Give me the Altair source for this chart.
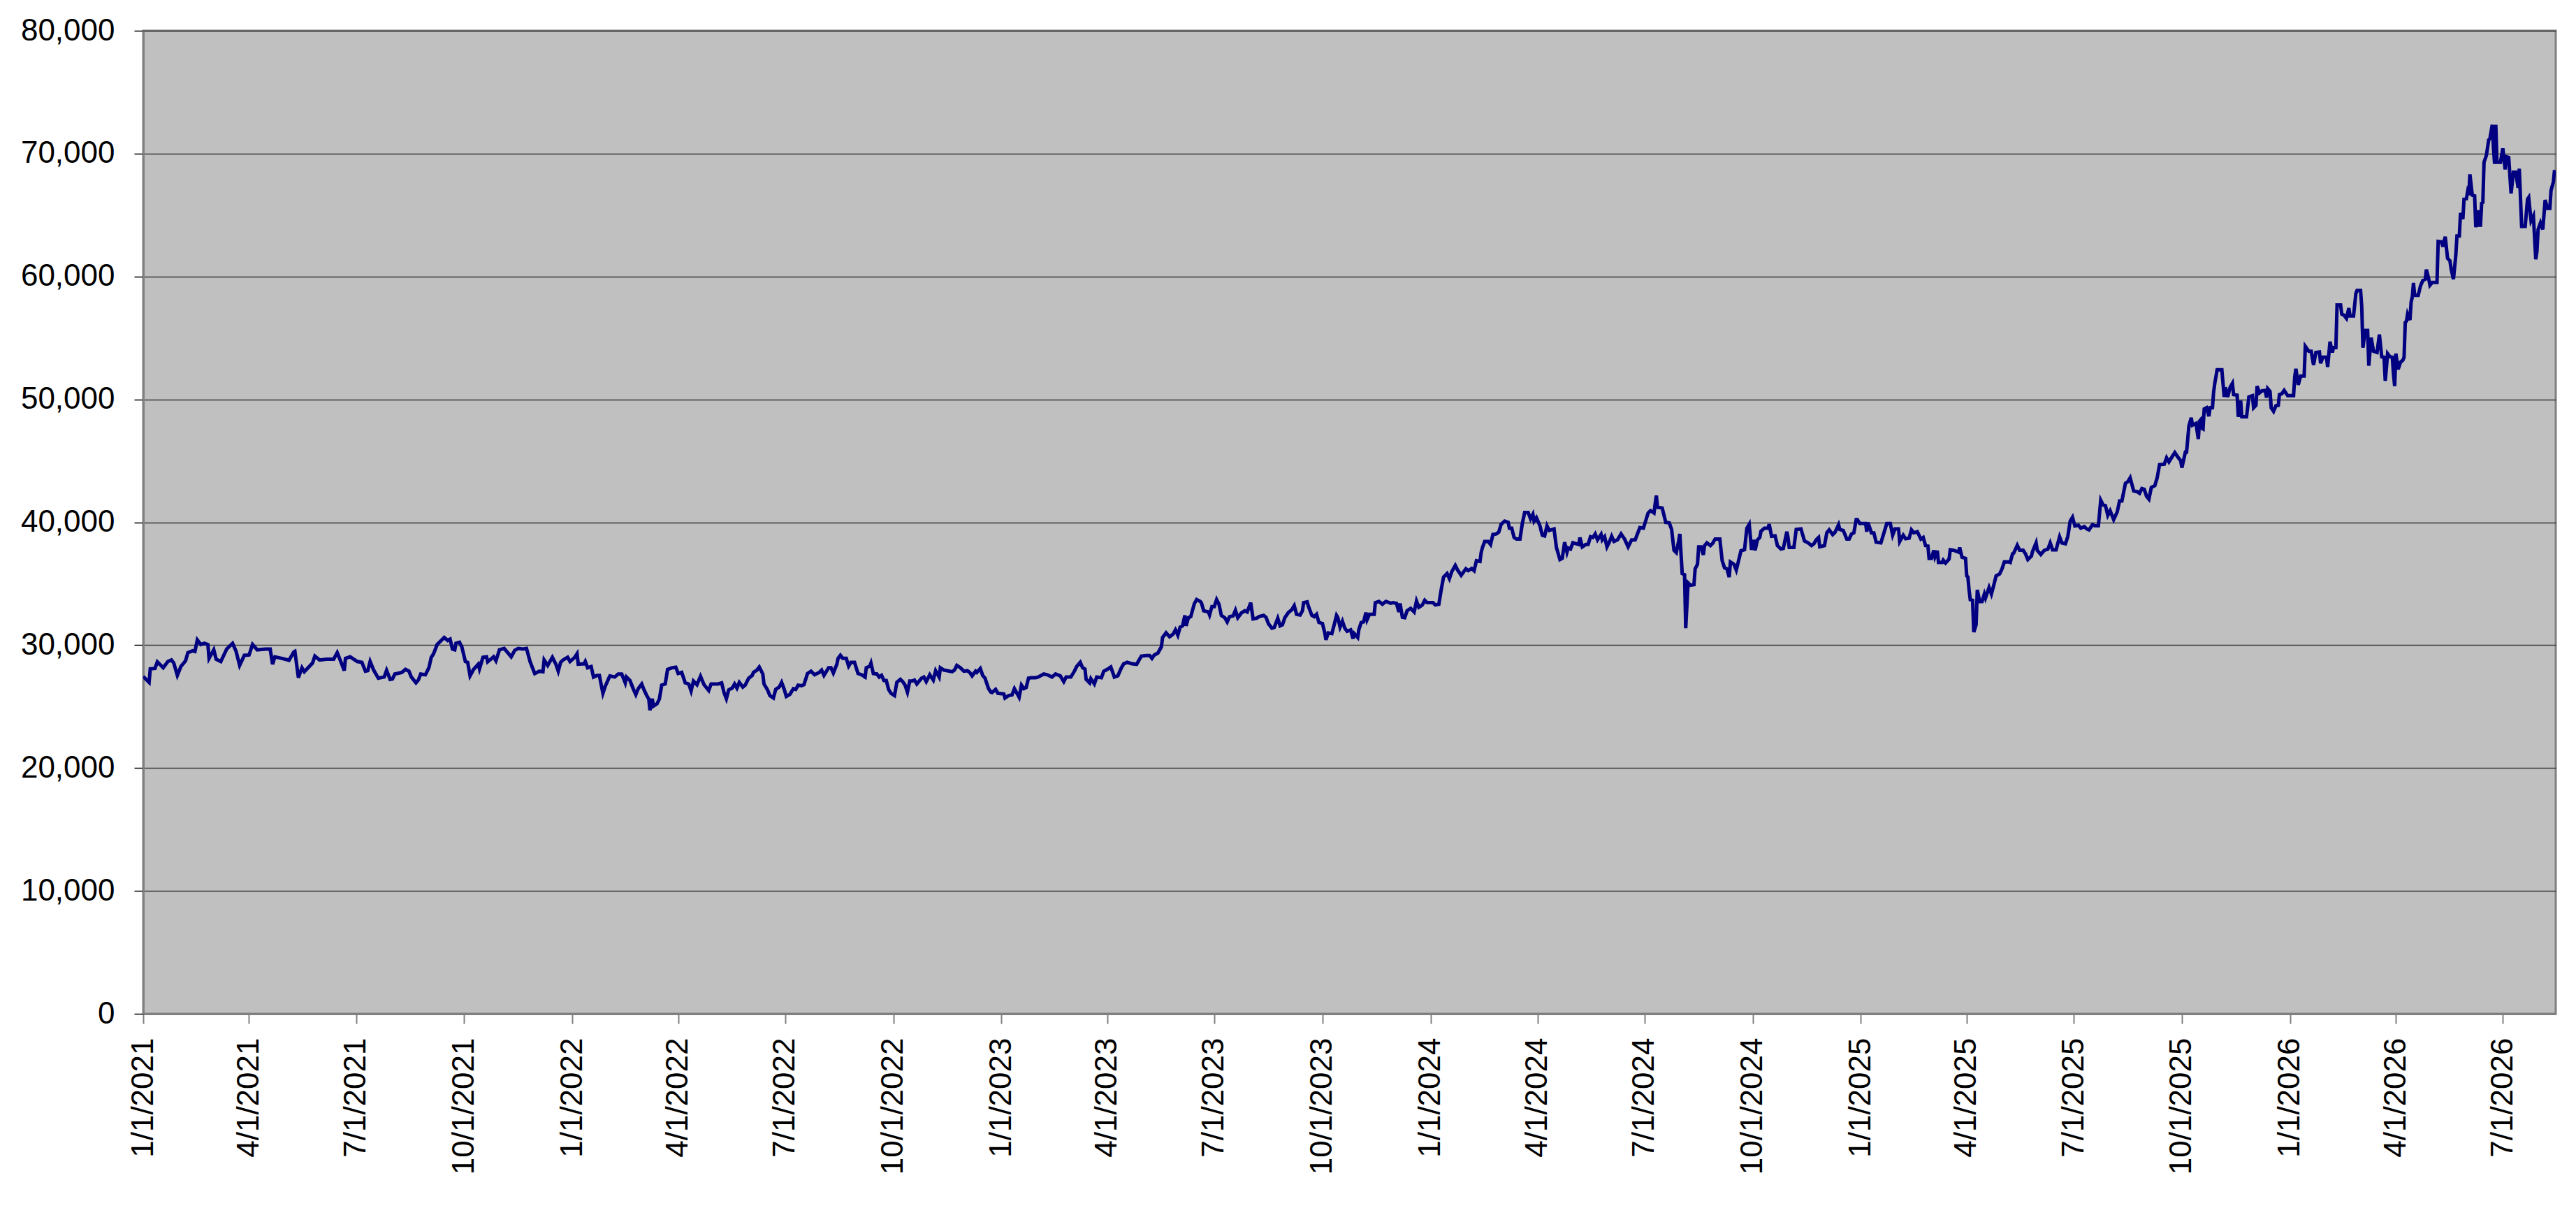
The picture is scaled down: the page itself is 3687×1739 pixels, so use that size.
import altair as alt
import pandas as pd

START_DATE = "2021-01-01"

# Day offsets from START_DATE and index values
days_2021 = [0, 5, 6, 10, 12, 17, 21, 24, 26, 29, 32, 36, 38, 42, 44, 46, 49, 52, 55, 56, 60, 62, 66, 71, 76, 79, 82, 86, 90, 93, 97, 104, 108, 110, 112, 118, 124, 128, 129, 132, 135, 137, 144, 146, 150, 156, 162, 165, 167, 171, 172, 176, 182, 186, 189, 191, 193, 196, 200, 205, 207, 210, 212, 214, 220, 223, 226, 228, 232, 234, 236, 240, 243, 245, 247, 250, 253, 256, 259, 261, 263, 265, 266, 269, 271, 274, 276, 278, 281, 285, 286, 289, 292, 293, 298, 300, 303, 307, 313, 316, 319, 323, 326, 329, 333, 337, 340, 341, 344, 348, 351]
vals_2021 = [27450, 26970, 28070, 28110, 28640, 28160, 28670, 28790, 28540, 27540, 28260, 28730, 29390, 29540, 29490, 30430, 30050, 30150, 30050, 28920, 29620, 28860, 28670, 29680, 30150, 29490, 28350, 29170, 29200, 30050, 29620, 29680, 29680, 28450, 29050, 28920, 28770, 29430, 29490, 27350, 28160, 27840, 28540, 29110, 28790, 28860, 28860, 29390, 28920, 27930, 28920, 29050, 28670, 28600, 27880, 27920, 28670, 27970, 27310, 27410, 27950, 27210, 27250, 27650, 27780, 28030, 27880, 27410, 26930, 27160, 27650, 27590, 28160, 29010, 29300, 30050, 30340, 30620, 30380, 30490, 29680, 29620, 30150, 30240, 29860, 28670, 28600, 27500, 28030, 28450, 28070, 29010, 29050, 28640, 29050, 28730, 29620, 29730, 29050, 29580, 29730, 29680, 29730, 28670, 27690, 27880, 27840, 28790, 28350, 29010, 28450]

days_2022 = [353, 355, 357, 361, 363, 367, 369, 370, 375, 376, 378, 381, 383, 386, 388, 389, 391, 393, 396, 397, 401, 404, 407, 410, 411, 414, 417, 419, 421, 424, 426, 428, 430, 431, 433, 434, 437, 439, 441, 444, 446, 450, 453, 455, 458, 461, 464, 466, 468, 471, 474, 477, 481, 483, 489, 492, 494, 496, 498, 501, 503, 505, 507, 510, 512, 515, 518, 519, 522, 524, 527, 528, 531, 533, 536, 538, 541, 543, 545, 547, 550, 553, 555, 557, 560, 562, 565, 568, 571, 575, 577, 579, 583, 585, 587, 590, 591, 593, 595, 598, 600, 602, 605, 608, 611, 614, 615, 618, 619, 621, 624, 626, 628, 630, 632, 634, 636, 639, 641, 644, 646, 648, 650, 652, 654, 656, 658, 662, 664, 666, 669, 672, 674, 677, 678, 681, 684, 688, 690, 692, 695, 698, 701, 703, 705, 708]
vals_2022 = [27880, 28600, 28790, 29010, 28670, 29010, 29300, 28450, 28480, 28670, 28160, 28260, 27400, 27540, 27540, 27030, 26080, 26650, 27310, 27500, 27400, 27650, 27650, 26930, 27400, 27120, 26400, 25980, 26460, 26840, 26360, 25950, 25610, 24700, 25640, 25040, 25230, 25610, 26740, 26840, 28030, 28160, 28200, 27690, 27780, 26930, 26840, 26270, 27080, 26780, 27460, 26780, 26310, 26840, 26840, 26930, 26140, 25640, 26360, 26510, 26840, 26510, 26970, 26590, 26740, 27310, 27540, 27780, 27970, 28220, 27650, 26840, 26360, 25890, 25700, 26400, 26590, 26970, 26460, 25830, 25990, 26460, 26400, 26740, 26700, 26780, 27690, 27880, 27590, 27780, 27970, 27540, 28160, 28160, 27730, 28450, 28920, 29170, 28920, 28920, 28290, 28600, 28600, 27690, 27590, 27400, 28160, 28290, 28540, 27690, 27650, 27400, 27540, 27120, 27120, 26400, 26080, 25890, 26970, 27210, 27030, 26740, 26170, 27080, 27080, 27160, 26840, 27310, 27400, 27030, 27590, 27160, 27920, 27400, 28160, 27970, 27920, 27840, 27970, 28350, 28160, 27880, 27920, 27780, 27500, 27880]

days_2023 = [709, 712, 714, 716, 719, 721, 722, 725, 727, 732, 733, 736, 739, 741, 745, 747, 749, 751, 753, 755, 759, 761, 766, 769, 773, 776, 780, 783, 785, 789, 792, 794, 797, 799, 801, 802, 805, 806, 809, 811, 815, 817, 820, 823, 826, 829, 832, 834, 837, 841, 845, 847, 849, 853, 856, 858, 860, 863, 866, 867, 870, 873, 876, 878, 880, 882, 884, 886, 887, 889, 891, 894, 896, 899, 900, 902, 906, 907, 909, 911, 913, 915, 917, 920, 922, 924, 927, 929, 931, 934, 937, 939, 942, 944, 947, 949, 953, 955, 957, 960, 962, 965, 967, 969, 971, 974, 977, 979, 981, 984, 986, 987, 990, 991, 994, 996, 998, 1000, 1003, 1005, 1006, 1008, 1011, 1013, 1015, 1016, 1018, 1020, 1022, 1024, 1027, 1029, 1030, 1033, 1034, 1036, 1038, 1040, 1041, 1043, 1047, 1048, 1051, 1054, 1057, 1061, 1063]
vals_2023 = [27780, 28100, 27540, 27310, 26460, 26170, 26140, 26400, 26080, 26020, 25700, 25890, 25950, 26460, 25760, 26740, 26460, 26550, 27310, 27350, 27350, 27400, 27650, 27590, 27400, 27650, 27500, 27030, 27400, 27400, 27880, 28260, 28600, 28160, 28060, 27220, 26930, 27270, 26840, 27400, 27350, 27880, 28030, 28220, 27400, 27500, 28160, 28480, 28600, 28480, 28440, 28780, 29110, 29160, 29160, 28920, 29200, 29350, 29860, 30620, 31000, 30680, 30900, 31240, 30810, 31470, 31570, 32420, 31570, 32230, 32320, 33370, 33710, 33560, 33460, 32800, 32700, 32460, 33140, 33140, 33710, 33330, 32420, 32230, 31890, 32320, 32380, 32840, 32230, 32610, 32800, 32700, 33460, 32140, 32190, 32320, 32420, 32270, 31760, 31380, 31440, 32190, 31570, 31660, 32230, 32650, 32890, 33210, 32510, 32460, 32800, 33460, 33520, 33180, 32420, 32320, 32510, 31850, 31760, 31000, 30430, 31000, 30940, 31660, 32420, 32270, 31470, 31940, 31380, 31130, 31240, 30530, 30940, 30620, 31280, 31850, 31890, 32650, 32080, 32510, 32510, 33460, 33560, 33330, 33560, 33410, 33460]

days_2024 = [1066, 1068, 1069, 1071, 1073, 1075, 1078, 1081, 1083, 1085, 1088, 1090, 1092, 1097, 1099, 1102, 1104, 1106, 1109, 1111, 1113, 1116, 1118, 1121, 1125, 1127, 1130, 1132, 1134, 1137, 1138, 1139, 1141, 1144, 1146, 1148, 1151, 1153, 1155, 1158, 1161, 1162, 1164, 1166, 1168, 1171, 1173, 1175, 1178, 1180, 1182, 1183, 1185, 1188, 1190, 1192, 1194, 1196, 1200, 1202, 1205, 1207, 1209, 1211, 1212, 1214, 1216, 1221, 1222, 1224, 1227, 1229, 1231, 1233, 1235, 1237, 1240, 1241, 1243, 1245, 1247, 1249, 1251, 1254, 1257, 1260, 1263, 1266, 1269, 1273, 1276, 1280, 1282, 1285, 1286, 1287, 1288, 1292, 1295, 1298, 1300, 1302, 1304, 1306, 1307, 1309, 1311, 1312, 1314, 1316, 1319, 1320, 1322, 1323, 1325, 1327, 1328, 1330, 1333, 1335, 1337, 1341, 1343, 1345, 1347, 1349, 1350, 1353, 1355, 1356, 1359, 1362, 1364, 1366, 1368, 1370, 1371, 1373, 1375, 1376, 1379, 1382, 1383, 1385, 1388, 1390, 1393, 1395, 1398, 1399, 1400, 1404, 1406, 1410, 1413, 1416, 1419, 1421]
vals_2024 = [33400, 32700, 33400, 32270, 32230, 32800, 32990, 32700, 33590, 33080, 33270, 33650, 33460, 33460, 33270, 33330, 34500, 35540, 35830, 35410, 35980, 36490, 36110, 35680, 36210, 36060, 36240, 36060, 36870, 36810, 37530, 37910, 38440, 38440, 38190, 39010, 39050, 39200, 39840, 40090, 39990, 39520, 39520, 38760, 38630, 38630, 39900, 40790, 40790, 40280, 40650, 40090, 40370, 39710, 38950, 38890, 39710, 39330, 39460, 37950, 36960, 37060, 38380, 37570, 37910, 37820, 38330, 38190, 38760, 38000, 38190, 38190, 38820, 38760, 39050, 38570, 39010, 38570, 38820, 38000, 38380, 38860, 38440, 38570, 39050, 38630, 38000, 38570, 38570, 39570, 39520, 40750, 40940, 40750, 41510, 42170, 41220, 41160, 39990, 39950, 39420, 37720, 37530, 38480, 39050, 35830, 35730, 31380, 35070, 34880, 34920, 36210, 36580, 38000, 38000, 37340, 38100, 38330, 38100, 38290, 38630, 38630, 36870, 36300, 36210, 35540, 36770, 36580, 36110, 36490, 37680, 37760, 39520, 39840, 37760, 38570, 37720, 38570, 38760, 39270, 39520, 39520, 39840, 38860, 38890, 38100, 37820, 37870, 39230, 38760, 37950, 37950, 39420, 39460, 38480, 38330, 38100, 38250]

days_2025 = [1423, 1425, 1426, 1430, 1432, 1434, 1437, 1439, 1442, 1443, 1446, 1449, 1451, 1453, 1455, 1457, 1458, 1460, 1465, 1466, 1467, 1470, 1472, 1474, 1478, 1480, 1483, 1486, 1488, 1490, 1493, 1494, 1497, 1499, 1502, 1504, 1506, 1509, 1512, 1514, 1516, 1518, 1519, 1521, 1523, 1524, 1526, 1527, 1530, 1531, 1533, 1536, 1537, 1540, 1544, 1545, 1547, 1550, 1551, 1552, 1553, 1554, 1556, 1557, 1559, 1560, 1562, 1564, 1566, 1567, 1570, 1572, 1574, 1576, 1579, 1581, 1583, 1587, 1588, 1590, 1591, 1594, 1596, 1599, 1601, 1603, 1606, 1607, 1610, 1611, 1614, 1617, 1620, 1622, 1624, 1627, 1630, 1632, 1635, 1637, 1639, 1641, 1643, 1646, 1648, 1651, 1653, 1655, 1658, 1660, 1663, 1665, 1667, 1669, 1671, 1673, 1676, 1679, 1681, 1683, 1686, 1688, 1690, 1693, 1696, 1698, 1700, 1702, 1704, 1706, 1708, 1711, 1713, 1715, 1719, 1721, 1723, 1726, 1728, 1731, 1733, 1734, 1737, 1738, 1740, 1742, 1743, 1746, 1748, 1749]
vals_2025 = [38570, 38760, 38000, 38100, 39140, 39380, 39000, 39190, 39800, 39420, 39330, 38630, 38630, 39040, 39140, 40220, 40220, 39900, 39900, 39230, 39990, 39140, 39140, 38380, 38320, 38950, 39900, 39900, 38950, 39460, 39460, 38440, 38950, 38660, 38700, 39380, 39140, 39230, 38630, 38760, 38100, 38060, 37060, 37060, 37720, 37190, 37680, 36730, 36730, 36920, 36680, 37000, 37760, 37720, 37570, 37950, 37150, 37060, 35640, 35540, 34500, 33700, 33650, 31060, 31660, 34500, 33550, 33550, 34160, 33840, 34690, 34160, 34880, 35640, 35790, 36200, 36770, 36770, 36730, 37430, 37490, 38130, 37720, 37720, 37430, 36960, 37240, 37620, 38320, 37720, 37380, 37720, 37810, 38320, 37760, 37760, 38820, 38320, 38250, 38850, 40090, 40410, 39700, 39760, 39520, 39650, 39460, 39380, 39800, 39710, 39710, 41790, 41410, 41350, 40560, 40940, 40220, 40840, 41730, 41730, 43170, 43300, 43620, 42550, 42490, 42360, 42740, 42680, 42110, 41880, 42830, 42980, 43620, 44690, 44720, 45250, 44910, 45380, 45670, 45250, 45010, 44440, 45710, 45710, 47850, 48510, 47900, 48040, 46770, 48230]

days_2026 = [1750, 1751, 1752, 1753, 1755, 1757, 1758, 1760, 1761, 1762, 1764, 1768, 1770, 1771, 1773, 1775, 1777, 1778, 1781, 1782, 1784, 1785, 1789, 1791, 1794, 1795, 1797, 1798, 1800, 1802, 1805, 1806, 1807, 1809, 1810, 1812, 1814, 1816, 1817, 1819, 1821, 1824, 1829, 1830, 1831, 1833, 1835, 1838, 1839, 1842, 1844, 1846, 1848, 1851, 1852, 1854, 1857, 1858, 1860, 1862, 1863, 1865, 1866, 1869, 1870, 1872, 1874, 1876, 1877, 1880, 1882, 1883, 1886, 1887, 1888, 1890, 1892, 1893, 1895, 1897, 1900, 1902, 1904, 1906, 1907, 1909, 1911, 1913, 1914, 1915, 1916, 1918, 1920, 1922, 1923, 1924, 1925, 1926, 1928, 1929, 1930, 1931, 1932, 1935, 1937, 1939, 1941, 1942, 1944, 1945, 1947, 1951, 1952, 1955, 1956, 1958, 1960, 1962, 1963, 1965, 1967, 1968, 1970, 1971, 1973, 1974, 1976, 1977, 1978, 1979, 1981, 1983, 1984, 1986, 1987, 1988, 1989, 1990, 1991, 1993, 1995, 1996, 1998, 1999, 2000, 2001, 2002, 2005, 2007, 2009, 2010, 2012, 2014, 2016, 2018, 2020, 2021, 2023, 2026, 2028, 2029, 2031, 2033, 2035, 2036, 2037, 2039, 2041, 2043, 2045, 2047, 2048, 2050, 2051]
vals_2026 = [48340, 47660, 47600, 49220, 49320, 48630, 49320, 49320, 50590, 51310, 52410, 52410, 50200, 50980, 50200, 50980, 51310, 50390, 50340, 48580, 49900, 48580, 48580, 50200, 50300, 49320, 49520, 51080, 50530, 50690, 50730, 50140, 50880, 50650, 49320, 49030, 49480, 49520, 50390, 50450, 50730, 50300, 50300, 51860, 52490, 51180, 51900, 51900, 54310, 53920, 53920, 52800, 53820, 53860, 52940, 53430, 53430, 52640, 54700, 53820, 54210, 54210, 57690, 57690, 56940, 56850, 56590, 57430, 56790, 56790, 58610, 58860, 58860, 57530, 54210, 55610, 55610, 52740, 55030, 53920, 53820, 55280, 53470, 53430, 51510, 53720, 53470, 53430, 52060, 51080, 53720, 52450, 53030, 53190, 53430, 56260, 56360, 56940, 56460, 57920, 58350, 59480, 58470, 58470, 59250, 59680, 59780, 60560, 59780, 59290, 59520, 59520, 62850, 62810, 62420, 63240, 61480, 61280, 60620, 59780, 61730, 63300, 63300, 65160, 64670, 66290, 66330, 66880, 66620, 68320, 66620, 66560, 64020, 65390, 64180, 64180, 65980, 66040, 69300, 69850, 71120, 71220, 72350, 70530, 69160, 72350, 69300, 69300, 70430, 68710, 69750, 69690, 66760, 68480, 68480, 67210, 68770, 64080, 64080, 66290, 66430, 64530, 64920, 61400, 62030, 63830, 64370, 63830, 66230, 65550, 65550, 67010, 67700, 68670]

x_tick_dates = [
    (2021, 1), (2021, 4), (2021, 7), (2021, 10),
    (2022, 1), (2022, 4), (2022, 7), (2022, 10),
    (2023, 1), (2023, 4), (2023, 7), (2023, 10),
    (2024, 1), (2024, 4), (2024, 7), (2024, 10),
    (2025, 1), (2025, 4), (2025, 7), (2025, 10),
    (2026, 1), (2026, 4), (2026, 7),
]
x_domain_end = (2026, 8, 15)
y_ticks = [0, 10000, 20000, 30000, 40000, 50000, 60000, 70000, 80000]

all_days = days_2021 + days_2022 + days_2023 + days_2024 + days_2025 + days_2026
all_vals = vals_2021 + vals_2022 + vals_2023 + vals_2024 + vals_2025 + vals_2026

dates = (pd.Timestamp(START_DATE) + pd.to_timedelta(all_days, unit="D")).strftime("%Y-%m-%d")
df = pd.DataFrame({"date": list(dates), "value": all_vals})

FONT = "Liberation Sans"

x_axis = alt.Axis(
    values=[alt.DateTime(year=y, month=m, date=1, utc=True) for y, m in x_tick_dates],
    labelExpr="utcFormat(datum.value, '%-m/%-d/%Y')",
    labelAngle=270,
    labelFont=FONT,
    labelFontSize=44,
    labelColor="#000000",
    labelPadding=20,
    labelLimit=600,
    labelOverlap=False,
    labelFlush=False,
    tickSize=14,
    tickColor="#808080",
    tickWidth=2,
    domainColor="#808080",
    domainWidth=3,
    grid=False,
)

y_axis = alt.Axis(
    values=y_ticks,
    format=",d",
    labelFont=FONT,
    labelFontSize=44,
    labelColor="#000000",
    labelPadding=28,
    labelLimit=600,
    labelOverlap=False,
    labelFlush=False,
    tickSize=13,
    tickColor="#000000",
    tickWidth=1.5,
    domainColor="#808080",
    domainWidth=3,
    grid=True,
    gridColor="#3a3a3a",
    gridWidth=1.5,
)

chart = (
    alt.Chart(df)
    .mark_line(color="#000080", strokeWidth=5, clip=True)
    .encode(
        x=alt.X(
            "date:T",
            title=None,
            axis=x_axis,
            scale=alt.Scale(
                type="utc",
                domain=[
                    alt.DateTime(year=2021, month=1, date=1, utc=True),
                    alt.DateTime(year=x_domain_end[0], month=x_domain_end[1], date=x_domain_end[2], utc=True),
                ],
                nice=False,
            ),
        ),
        y=alt.Y(
            "value:Q",
            title=None,
            axis=y_axis,
            scale=alt.Scale(domain=[0, 80000], nice=False, zero=True),
        ),
    )
    .properties(
        width=3453,
        height=1407,
        autosize=alt.AutoSizeParams(type="none"),
        padding={"left": 197, "top": 36, "right": 21, "bottom": 260},
        background="#FFFFFF",
    )
    .configure_view(fill="#C0C0C0", stroke="#808080", strokeWidth=3)
)

chart.save("out.html", embed_options={"renderer": "svg", "actions": False})
